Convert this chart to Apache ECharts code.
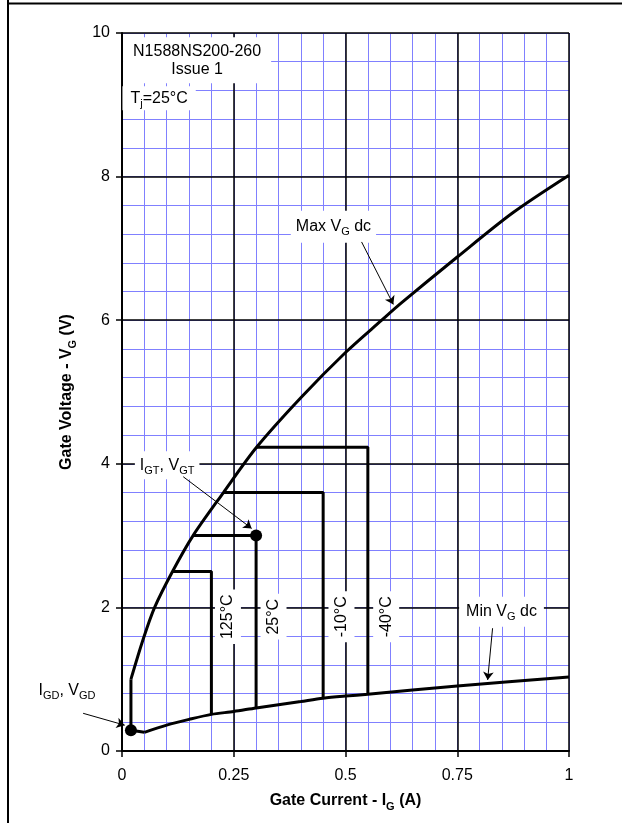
<!DOCTYPE html>
<html>
<head>
<meta charset="utf-8">
<title>Gate characteristics</title>
<script src="https://cdn.jsdelivr.net/npm/echarts@6/dist/echarts.min.js"></script>
<style>
    html, body { margin: 0; padding: 0; background: #fff; }
    #chart { width: 622px; height: 823px; }
</style>
</head>
<body>
<div id="chart"></div>
<script>
// gate current IG (A) / gate voltage VG (V)
var maxStem = [[0.02, 0.29], [0.02, 1.0]];
var maxCurve = [[0.02, 1.0], [0.047, 1.55], [0.073, 2.0], [0.113, 2.5], [0.159, 3.0],
    [0.227, 3.6], [0.301, 4.23], [0.4, 4.92], [0.5, 5.55], [0.581, 6.0],
    [0.625, 6.24], [0.75, 6.88], [0.875, 7.5], [1.0, 8.02]];
var minStep = [[0.02, 0.29], [0.05, 0.26]];
var minCurve = [[0.05, 0.26], [0.1, 0.36], [0.15, 0.44], [0.2, 0.51], [0.25, 0.55],
    [0.3, 0.6], [0.4, 0.69], [0.45, 0.735], [0.5, 0.765], [0.55, 0.79], [0.75, 0.905], [1.0, 1.03]];

var boxTemps = ['125°C', '25°C', '-10°C', '-40°C'];
var boxVgt = [2.5, 3.0, 3.6, 4.23];
var boxIgt = [0.2, 0.3, 0.45, 0.55];
var boxStartIg = [0.113, 0.159, 0.227, 0.301];
var boxFloorVg = [0.51, 0.6, 0.735, 0.79];

var gtPoint = [0.3, 3.0];
var gdPoint = [0.02, 0.29];

var font = '"Liberation Sans", Arial, sans-serif';
var blue = '#8080ff';
var rich = {
    sub: { fontSize: 11, fontFamily: font, color: '#000', verticalAlign: 'bottom', lineHeight: 12 }
};
var richBold = {
    sub: { fontSize: 11, fontFamily: font, fontWeight: 'bold', color: '#000', verticalAlign: 'bottom', lineHeight: 12 }
};

function curve(data, smooth) {
    return {
        type: 'line', xAxisIndex: 1, yAxisIndex: 1, silent: true, showSymbol: false, z: 4,
        smooth: smooth, lineStyle: { color: '#000', width: 3 }, data: data
    };
}

function boxSeries(i) {
    return curve([[boxStartIg[i], boxVgt[i]], [boxIgt[i], boxVgt[i]], [boxIgt[i], boxFloorVg[i]]], false);
}

function note(pos, text, opts) {
    var lbl = {
        show: true, position: 'inside', formatter: text, color: '#000',
        fontFamily: font, fontSize: 16, lineHeight: 22, rich: rich
    };
    for (var k in opts) lbl[k] = opts[k];
    return { value: pos, label: lbl };
}

var notes = [
    note([0.168, 9.62], 'N1588NS200-260\nIssue 1', { lineHeight: 18, backgroundColor: '#fff', padding: [5, 10, 5, 10] }),
    note([0.083, 9.09], 'T{sub|j}=25°C', { backgroundColor: '#fff', padding: [1, 8, 1, 8] }),
    note([0.473, 7.30], 'Max V{sub|G} dc', { backgroundColor: '#fff', padding: [5, 5, 5, 5] }),
    note([0.101, 3.98], 'I{sub|GT}, V{sub|GT}', { backgroundColor: '#fff', padding: [3, 5, 3, 5] }),
    note([0.849, 1.94], 'Min V{sub|G} dc', { backgroundColor: '#fff', padding: [4, 7, 4, 7] }),
    note([-0.123, 0.84], 'I{sub|GD}, V{sub|GD}', {})
];
var tempLabelIg = [0.237, 0.339, 0.491, 0.591];
boxTemps.forEach(function (t, i) {
    notes.push(note([tempLabelIg[i], 1.87], t, { rotate: 90, lineHeight: 18, backgroundColor: '#fff', padding: [4, 5, 4, 5] }));
});

var arrows = [
    [[0.536, 7.09], [0.607, 6.22]],
    [[0.137, 3.82], [0.29, 3.10]],
    [[0.829, 1.71], [0.818, 0.99]],
    [[-0.087, 0.525], [0.006, 0.36]]
];

var series = [curve(maxStem, false), curve(maxCurve, 0.3), curve(minStep, false), curve(minCurve, 0.3)];
for (var i = 0; i < boxTemps.length; i++) series.push(boxSeries(i));
series.push({
    type: 'scatter', xAxisIndex: 1, yAxisIndex: 1, silent: true, z: 5,
    symbolSize: 12, itemStyle: { color: '#000', opacity: 1 }, data: [gtPoint, gdPoint]
});
series.push({
    type: 'lines', coordinateSystem: 'cartesian2d', xAxisIndex: 1, yAxisIndex: 1, silent: true, z: 5, clip: false,
    symbol: ['none', 'arrow'], symbolSize: [0, 8],
    lineStyle: { color: '#000', width: 1, opacity: 1, curveness: 0 },
    data: arrows.map(function (a) { return { coords: a }; })
});
series.push({
    type: 'scatter', xAxisIndex: 1, yAxisIndex: 1, silent: true, z: 3, clip: false,
    symbolSize: 0, itemStyle: { opacity: 1 }, data: notes
});

var chart = echarts.init(document.getElementById('chart'), null, { renderer: 'canvas' });
chart.setOption({
    animation: false,
    backgroundColor: '#fff',
    textStyle: { fontFamily: font, color: '#000' },
    grid: { left: 122, right: 53, top: 33, bottom: 72 },
    xAxis: [
        {
            type: 'value', min: 0, max: 1, interval: 0.05, position: 'top', z: 0,
            axisLine: { show: false }, axisTick: { show: false }, axisLabel: { show: false },
            splitLine: { show: true, lineStyle: { color: blue, width: 1 } }
        },
        {
            type: 'value', min: 0, max: 1, interval: 0.25, position: 'bottom', z: 1,
            name: 'Gate Current - I{sub|G} (A)', nameLocation: 'middle', nameGap: 39,
            nameTextStyle: { fontSize: 16, fontWeight: 'bold', fontFamily: font, color: '#000', lineHeight: 22, rich: richBold },
            axisLine: { show: true, lineStyle: { color: '#000', width: 2 } },
            axisTick: { show: true, length: 6, lineStyle: { color: '#000', width: 1.5 } },
            axisLabel: { fontSize: 16, color: '#000', margin: 17 },
            splitLine: { show: true, lineStyle: { color: '#000', width: 1.5 } }
        }
    ],
    yAxis: [
        {
            type: 'value', min: 0, max: 10, interval: 0.4, position: 'right', z: 0,
            axisLine: { show: false }, axisTick: { show: false }, axisLabel: { show: false },
            splitLine: { show: true, lineStyle: { color: blue, width: 1 } }
        },
        {
            type: 'value', min: 0, max: 10, interval: 2, position: 'left', z: 1,
            name: 'Gate Voltage - V{sub|G} (V)', nameLocation: 'middle', nameGap: 44,
            nameTextStyle: { fontSize: 16, fontWeight: 'bold', fontFamily: font, color: '#000', lineHeight: 22, rich: richBold },
            axisLine: { show: true, lineStyle: { color: '#000', width: 2 } },
            axisTick: { show: true, length: 6, lineStyle: { color: '#000', width: 1.5 } },
            axisLabel: { fontSize: 16, color: '#000', margin: 12 },
            splitLine: { show: true, lineStyle: { color: '#000', width: 1.5 } }
        }
    ],
    graphic: [
        { type: 'line', shape: { x1: 8, y1: 0, x2: 8, y2: 823 }, style: { stroke: '#000', lineWidth: 2 } },
        { type: 'line', shape: { x1: 7, y1: 3.5, x2: 622, y2: 3.5 }, style: { stroke: '#000', lineWidth: 2 } }
    ],
    series: series
});
</script>
</body>
</html>
